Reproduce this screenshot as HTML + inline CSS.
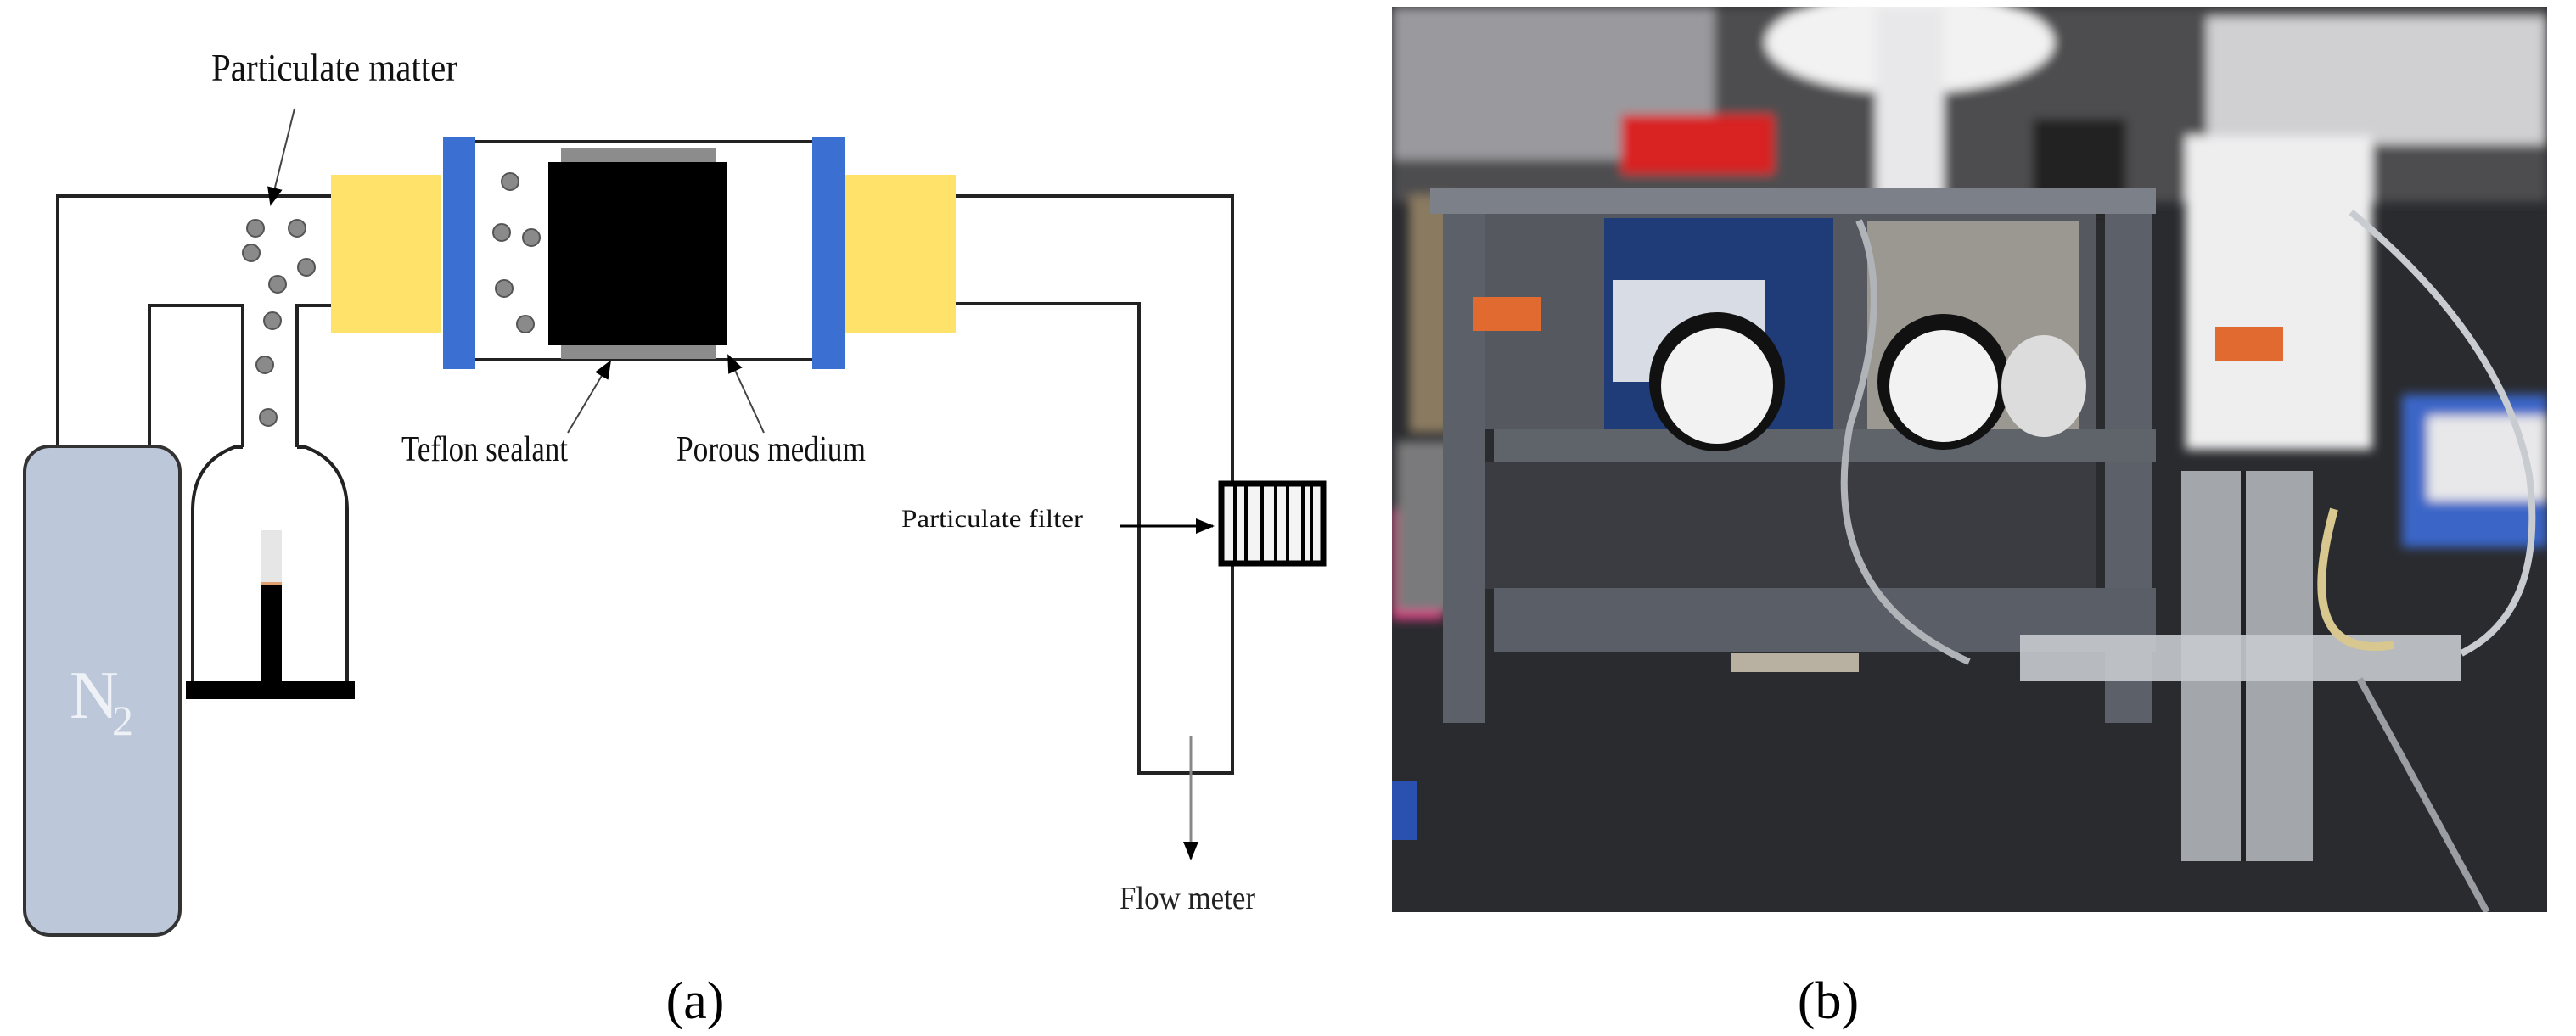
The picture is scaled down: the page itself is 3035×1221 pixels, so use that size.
<!DOCTYPE html>
<html><head><meta charset="utf-8"><style>
html,body{margin:0;padding:0;background:#fff;}
svg{display:block;}
text{font-family:"Liberation Serif",serif;}
</style></head><body>
<svg width="3035" height="1221" viewBox="0 0 3035 1221" xmlns="http://www.w3.org/2000/svg">
<defs>
<marker id="ah2" markerWidth="22" markerHeight="22" refX="20" refY="11" orient="auto" markerUnits="userSpaceOnUse" viewBox="0 0 22 22"><path d="M0,2 L22,11 L0,20 z" fill="#000"/></marker>
<filter id="bl"><feGaussianBlur stdDeviation="6"/></filter>
</defs>

<g fill="none" stroke="#222" stroke-width="4">
<polyline points="68,526 68,231 390,231"/>
<polyline points="176,526 176,360 286,360 286,527"/>
<polyline points="390,360 350,360 350,527"/>
<path d="M286,527 L276,527 Q228,545 227,600 L227,805"/>
<path d="M350,527 L360,527 Q408,545 409,600 L409,805"/>
<polyline points="1126,231 1452,231 1452,911 1342,911 1342,358 1126,358"/>
<line x1="560" y1="167" x2="957" y2="167"/>
<line x1="560" y1="424" x2="957" y2="424"/>
</g>

<rect x="29" y="526" width="183" height="576" rx="30" fill="#bcc8da" stroke="#333" stroke-width="4"/>
<text x="82" y="846" font-size="80" fill="#eef1f6">N</text>
<text x="132" y="866" font-size="50" fill="#eef1f6">2</text>

<rect x="308" y="625" width="24" height="62" fill="#e6e6e6"/>
<rect x="308" y="686" width="24" height="4" fill="#e0a070"/>
<rect x="308" y="690" width="24" height="115" fill="#000"/>
<rect x="219" y="803" width="199" height="21" fill="#000"/>

<rect x="390" y="206" width="130" height="187" fill="#fee26a"/>
<rect x="994" y="206" width="132" height="187" fill="#fee26a"/>
<rect x="522" y="162" width="38" height="273" fill="#3b6fd2"/>
<rect x="957" y="162" width="38" height="273" fill="#3b6fd2"/>
<rect x="661" y="175" width="182" height="18" fill="#8c8c8c"/>
<rect x="661" y="405" width="182" height="18" fill="#8c8c8c"/>
<rect x="646" y="191" width="211" height="216" fill="#000"/>

<g fill="#8a8a8a" stroke="#555" stroke-width="2">
<circle cx="601" cy="214" r="10"/><circle cx="591" cy="274" r="10"/><circle cx="626" cy="280" r="10"/>
<circle cx="594" cy="340" r="10"/><circle cx="619" cy="382" r="10"/>
<circle cx="301" cy="269" r="10"/><circle cx="350" cy="269" r="10"/><circle cx="296" cy="298" r="10"/>
<circle cx="361" cy="315" r="10"/><circle cx="327" cy="335" r="10"/><circle cx="321" cy="378" r="10"/>
<circle cx="312" cy="430" r="10"/><circle cx="316" cy="492" r="10"/>
</g>

<rect x="1439" y="570" width="120" height="94" fill="#f4f4f4" stroke="#000" stroke-width="7"/>
<g stroke="#000" stroke-width="4">
<line x1="1455" y1="572" x2="1455" y2="662"/><line x1="1468" y1="572" x2="1468" y2="662"/>
<line x1="1487" y1="572" x2="1487" y2="662"/><line x1="1503" y1="572" x2="1503" y2="662"/>
<line x1="1517" y1="572" x2="1517" y2="662"/><line x1="1535" y1="572" x2="1535" y2="662"/>
<line x1="1545" y1="572" x2="1545" y2="662"/>
</g>

<g stroke="#444" stroke-width="2" fill="none">
<line x1="347" y1="128" x2="319" y2="241" marker-end="url(#ah2)"/>
<line x1="669" y1="510" x2="719" y2="426" marker-end="url(#ah2)"/>
<line x1="900" y1="510" x2="858" y2="419" marker-end="url(#ah2)"/>
<line x1="1319" y1="620" x2="1429" y2="620" stroke="#000" stroke-width="3" marker-end="url(#ah2)"/>
<line x1="1403" y1="868" x2="1403" y2="1012" stroke="#888" stroke-width="3" marker-end="url(#ah2)"/>
</g>

<text x="249" y="95" font-size="46" textLength="290" lengthAdjust="spacingAndGlyphs" fill="#111">Particulate matter</text>
<text x="473" y="543" font-size="42" textLength="196" lengthAdjust="spacingAndGlyphs" fill="#111">Teflon  sealant</text>
<text x="797" y="543" font-size="42" textLength="223" lengthAdjust="spacingAndGlyphs" fill="#111">Porous medium</text>
<text x="1062" y="621" font-size="30" textLength="214" lengthAdjust="spacingAndGlyphs" fill="#111">Particulate filter</text>
<text x="1319" y="1071" font-size="38" textLength="160" lengthAdjust="spacingAndGlyphs" fill="#222">Flow meter</text>
<text x="819" y="1200" font-size="62" text-anchor="middle" fill="#000">(a)</text>
<text x="2154" y="1200" font-size="62" text-anchor="middle" fill="#000">(b)</text>

<svg x="1640" y="8" width="1361" height="1067" viewBox="1640 8 1361 1067">
<rect x="1640" y="8" width="1361" height="1067" fill="#2a2b2f"/>
<g filter="url(#bl)">
<rect x="1640" y="8" width="1361" height="230" fill="#4e4e50"/>
<rect x="1640" y="8" width="380" height="180" fill="#9a9a9e"/>
<ellipse cx="2250" cy="50" rx="170" ry="60" fill="#f2f2f2"/>
<rect x="2210" y="8" width="80" height="230" fill="#e8e8ea"/>
<rect x="2600" y="20" width="400" height="150" fill="#d0d0d2"/>
<rect x="2575" y="160" width="220" height="370" fill="#eeeeef"/>
<rect x="1910" y="135" width="180" height="70" fill="#d92020"/>
<rect x="2395" y="140" width="110" height="110" fill="#222"/>
<rect x="1640" y="600" width="60" height="130" fill="#e03c88"/>
<rect x="2830" y="465" width="171" height="180" fill="#3a66c8"/>
<rect x="2860" y="490" width="141" height="100" fill="#e8e8ea"/>
<rect x="1660" y="230" width="50" height="280" fill="#8a7a60"/>
<rect x="1645" y="520" width="70" height="200" fill="#7a7a7c"/>
</g>
<rect x="1685" y="222" width="855" height="30" fill="#7c8088"/>
<rect x="1700" y="252" width="770" height="254" fill="#55585e"/>
<rect x="1740" y="544" width="730" height="150" fill="#3a3c42"/>
<rect x="1890" y="257" width="270" height="250" fill="#1f3c78"/>
<rect x="1900" y="330" width="180" height="120" fill="#d8dce4"/>
<rect x="2200" y="260" width="250" height="250" fill="#9a9890"/>
<rect x="1700" y="252" width="50" height="600" fill="#5c6068"/>
<rect x="2480" y="252" width="55" height="600" fill="#5c6068"/>
<rect x="1760" y="506" width="780" height="38" fill="#5f636a"/>
<rect x="1760" y="693" width="780" height="75" fill="#5a5e66"/>
<ellipse cx="2023" cy="450" rx="80" ry="82" fill="#111"/>
<ellipse cx="2023" cy="455" rx="66" ry="68" fill="#f2f2f2"/>
<ellipse cx="2290" cy="450" rx="78" ry="80" fill="#111"/>
<ellipse cx="2290" cy="455" rx="64" ry="66" fill="#f2f2f2"/>
<ellipse cx="2408" cy="455" rx="50" ry="60" fill="#dcdcdc"/>
<rect x="1735" y="350" width="80" height="40" fill="#e06a30"/>
<rect x="2610" y="385" width="80" height="40" fill="#e06a30"/>
<rect x="2570" y="555" width="155" height="460" fill="#b8bcc0" opacity="0.85"/>
<rect x="2640" y="555" width="6" height="460" fill="#222"/>
<rect x="2380" y="748" width="520" height="55" fill="#c6cace" opacity="0.9"/>
<rect x="2040" y="770" width="150" height="22" fill="#b8b0a0"/>
<path d="M2750,600 Q2700,780 2820,760" stroke="#d8c890" stroke-width="10" fill="none"/>
<path d="M2770,250 Q2950,400 2980,560 Q3000,720 2900,770" stroke="#c8ccd0" stroke-width="8" fill="none"/>
<path d="M2190,260 Q2230,350 2180,500 Q2140,700 2320,780" stroke="#b0b4b8" stroke-width="8" fill="none"/>
<path d="M2780,800 L2930,1075" stroke="#9a9ea2" stroke-width="8" fill="none"/>
<rect x="1640" y="920" width="30" height="70" fill="#2a50b0"/>
</svg>
</svg>
</body></html>
